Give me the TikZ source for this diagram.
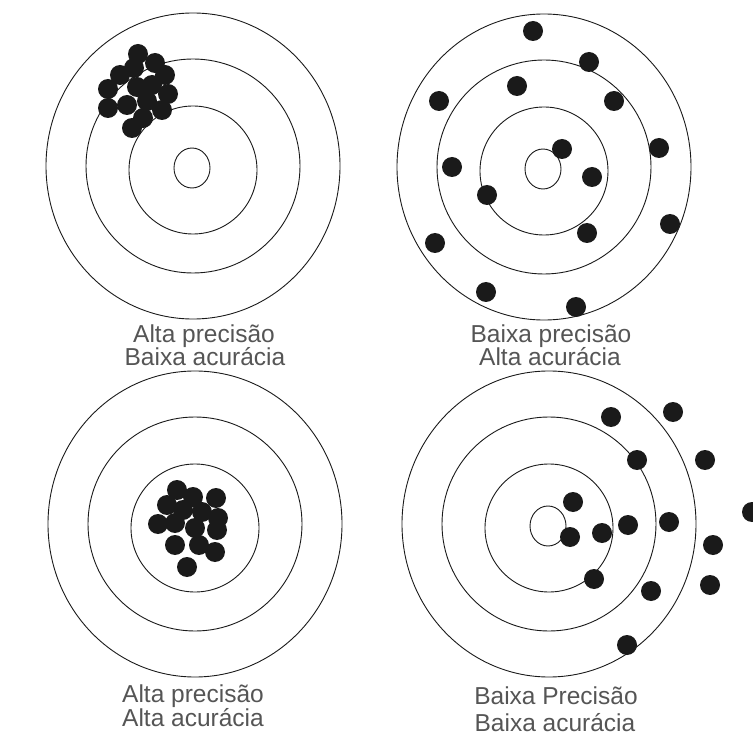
\documentclass[tikz,border=0pt]{standalone}
\usepackage{fontspec}
\setmainfont{Liberation Sans}
\definecolor{tgtInk}{HTML}{1A1A1A}
\definecolor{tgtText}{HTML}{555555}

\begin{document}
\begin{tikzpicture}[x=1pt, y=-1pt,
    ring/.style={tgtInk, line width=0.9pt},
    hit/.style={fill=tgtInk},
    caption/.style={text=tgtText, font=\fontsize{24.5}{29}\selectfont, anchor=base, inner sep=0pt}]
  \useasboundingbox (0,0) rectangle (753,738);
  % Rings: outer, middle, inner, bull (centre x, y)
  \newcommand{\tgtrings}[2]{%
    \draw[ring] (#1,#2) ellipse (147 and 153);
    \draw[ring] (#1,#2) circle (107);
    \draw[ring] (#1,#2+4) circle (64);}
  \newcommand{\tgtbull}[2]{\draw[ring] (#1-1,#2+2) ellipse (18 and 20);}
  % Top left
  \tgtrings{193}{166}
  \tgtbull{193}{166}
  \foreach \x/\y in {138/54, 155/63, 120/75, 134/68, 165/75, 108/89, 137/87, 152/85,
                     168/94, 108/108, 127/105, 147/101, 162/110, 143/118, 132/128}
    \fill[hit] (\x,\y) circle (10);
  % Top right
  \tgtrings{544}{167}
  \tgtbull{544}{167}
  \foreach \x/\y in {533/31, 589/62, 517/86, 439/101, 614/101, 562/149, 659/148, 452/167,
                     592/177, 487/195, 587/233, 670/224, 435/243, 486/292, 576/307}
    \fill[hit] (\x,\y) circle (10);
  % Bottom left
  \tgtrings{195}{524}
  \foreach \x/\y in {177/490, 193/497, 216/498, 167/505, 183/510, 202/512, 218/518, 158/524,
                     175/523, 195/528, 217/530, 175/545, 199/545, 215/552, 187/567}
    \fill[hit] (\x,\y) circle (10);
  % Bottom right
  \tgtrings{549}{524}
  \tgtbull{549}{524}
  \foreach \x/\y in {611/417, 673/412, 637/460, 705/460, 573/502, 628/525, 669/522, 752/512,
                     570/537, 602/533, 713/545, 594/579, 651/591, 710/585, 627/645}
    \fill[hit] (\x,\y) circle (10);
  % Captions
  \node[caption] (tl1) at (204,342) {Alta precisão};
  \node[caption] (tl2) at (205,365) {Baixa acurácia};
  \node[caption] (tr1) at (551,342) {Baixa precisão};
  \node[caption] (tr2) at (550,365) {Alta acurácia};
  \node[caption] (bl1) at (193,702) {Alta precisão};
  \node[caption] (bl2) at (193,726) {Alta acurácia};
  \node[caption] (br1) at (556,704) {Baixa Precisão};
  \node[caption] (br2) at (555,731) {Baixa acurácia};
\end{tikzpicture}
\end{document}
